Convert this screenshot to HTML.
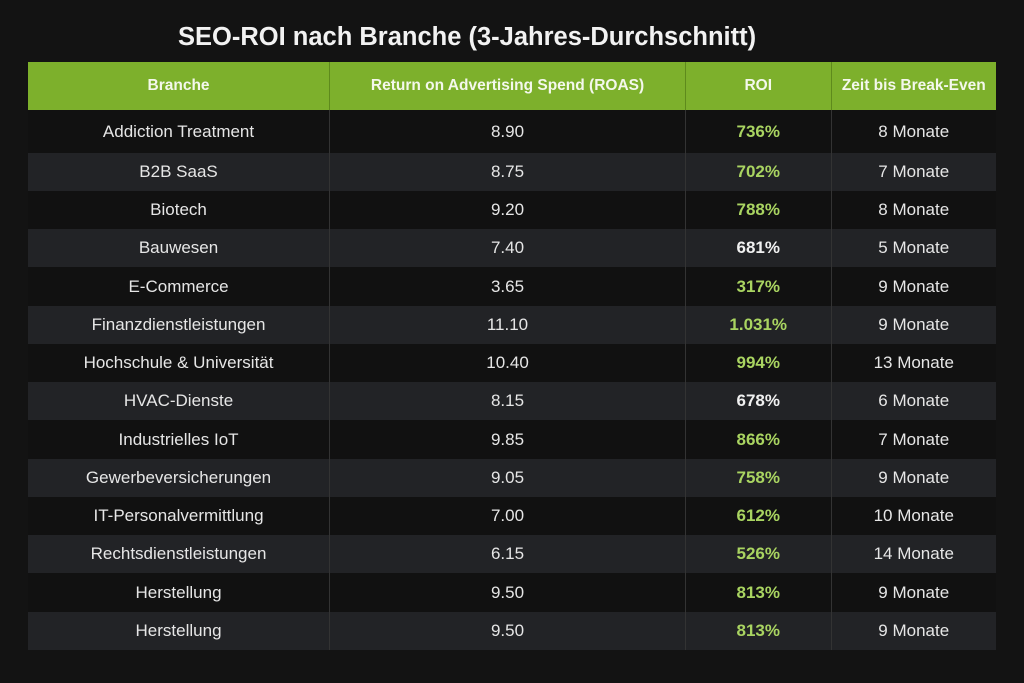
<!DOCTYPE html>
<html><head><meta charset="utf-8"><style>
body{margin:0;width:1024px;height:683px;background:#131313;font-family:"Liberation Sans",sans-serif;position:relative;overflow:hidden}
.t{position:absolute;left:178px;top:23px;font-size:25.5px;font-weight:bold;color:#f2f2f2;white-space:nowrap}
.r{position:absolute;left:28px;width:968px;display:flex;height:38px}
.r div{display:flex;align-items:center;justify-content:center;color:#e6e6e6;font-size:17px;border-right:1px solid #333}
.r div:last-child{border-right:none}
.c1{width:302px}.c2{width:356px}.c3{width:145px}.c4{width:165px}
.h{top:62px;height:48px;background:#7db02c}
.h div{color:#f4f8ec;font-weight:bold;font-size:15.5px;border-right:1px solid #5e8a1c}
.o{background:#111111}.e{background:#222326}
.g{color:#a9d461!important;font-weight:bold;font-size:17px!important}
.w{color:#f0f0f0!important;font-weight:bold;font-size:17px!important}
.n{font-size:17px!important}
</style></head><body>
<div class="t">SEO-ROI nach Branche (3-Jahres-Durchschnitt)</div>
<div class="r h"><div class="c1">Branche</div><div class="c2">Return on Advertising Spend (ROAS)</div><div class="c3">ROI</div><div class="c4">Zeit bis Break-Even</div></div>
<div class="r o" style="top:110px;height:43px"><div class="c1">Addiction Treatment</div><div class="c2 n">8.90</div><div class="c3 g">736%</div><div class="c4">8 Monate</div></div>
<div class="r e" style="top:153px"><div class="c1">B2B SaaS</div><div class="c2 n">8.75</div><div class="c3 g">702%</div><div class="c4">7 Monate</div></div>
<div class="r o" style="top:191px"><div class="c1">Biotech</div><div class="c2 n">9.20</div><div class="c3 g">788%</div><div class="c4">8 Monate</div></div>
<div class="r e" style="top:229px"><div class="c1">Bauwesen</div><div class="c2 n">7.40</div><div class="c3 w">681%</div><div class="c4">5 Monate</div></div>
<div class="r o" style="top:267px;height:39px"><div class="c1">E-Commerce</div><div class="c2 n">3.65</div><div class="c3 g">317%</div><div class="c4">9 Monate</div></div>
<div class="r e" style="top:306px"><div class="c1">Finanzdienstleistungen</div><div class="c2 n">11.10</div><div class="c3 g">1.031%</div><div class="c4">9 Monate</div></div>
<div class="r o" style="top:344px"><div class="c1">Hochschule &amp; Universität</div><div class="c2 n">10.40</div><div class="c3 g">994%</div><div class="c4">13 Monate</div></div>
<div class="r e" style="top:382px"><div class="c1">HVAC-Dienste</div><div class="c2 n">8.15</div><div class="c3 w">678%</div><div class="c4">6 Monate</div></div>
<div class="r o" style="top:420px;height:39px"><div class="c1">Industrielles IoT</div><div class="c2 n">9.85</div><div class="c3 g">866%</div><div class="c4">7 Monate</div></div>
<div class="r e" style="top:459px"><div class="c1">Gewerbeversicherungen</div><div class="c2 n">9.05</div><div class="c3 g">758%</div><div class="c4">9 Monate</div></div>
<div class="r o" style="top:497px"><div class="c1">IT-Personalvermittlung</div><div class="c2 n">7.00</div><div class="c3 g">612%</div><div class="c4">10 Monate</div></div>
<div class="r e" style="top:535px"><div class="c1">Rechtsdienstleistungen</div><div class="c2 n">6.15</div><div class="c3 g">526%</div><div class="c4">14 Monate</div></div>
<div class="r o" style="top:573px;height:39px"><div class="c1">Herstellung</div><div class="c2 n">9.50</div><div class="c3 g">813%</div><div class="c4">9 Monate</div></div>
<div class="r e" style="top:612px"><div class="c1">Herstellung</div><div class="c2 n">9.50</div><div class="c3 g">813%</div><div class="c4">9 Monate</div></div>
</body></html>
